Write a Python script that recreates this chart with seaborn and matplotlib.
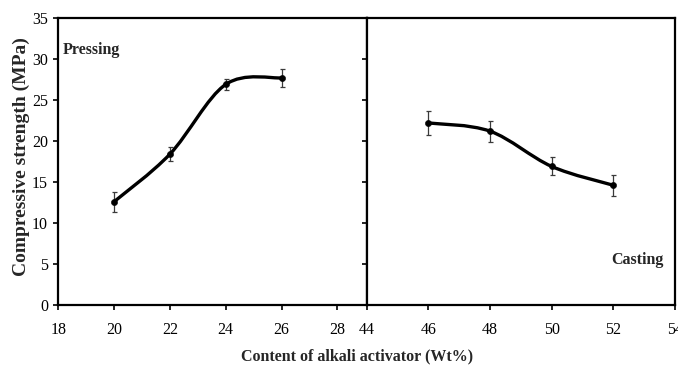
import numpy as np
import seaborn as sns
import matplotlib.pyplot as plt
from matplotlib.path import Path
from matplotlib.patches import PathPatch

# data
press_x = [20, 22, 24, 26]
press_y = [12.6, 18.4, 26.9, 27.7]
press_err = [1.2, 0.9, 0.7, 1.1]

cast_x = [46, 48, 50, 52]
cast_y = [22.2, 21.2, 16.9, 14.6]
cast_err = [1.45, 1.3, 1.1, 1.25]

sns.set_style('ticks')
plt.rcParams['font.family'] = ['Liberation Serif', 'DejaVu Serif']


def smooth_path(xs, ys, k=1 / 6):
    # excel style smoothed line: bezier segments through the points
    pts = np.column_stack([xs, ys]).astype(float)
    verts = [pts[0]]
    codes = [Path.MOVETO]
    n = len(pts)
    for i in range(n - 1):
        p0 = pts[i - 1] if i > 0 else pts[i]
        p1, p2 = pts[i], pts[i + 1]
        p3 = pts[i + 2] if i + 2 < n else pts[i + 1]
        c1 = p1 + (p2 - p0) * k
        c2 = p2 - (p3 - p1) * k
        verts += [c1, c2, p2]
        codes += [Path.CURVE4] * 3
    return Path(verts, codes)


fig = plt.figure(figsize=(6.78, 3.66), dpi=100)
ax1 = fig.add_axes([0.086, 0.1667, 0.4547, 0.7841])
ax2 = fig.add_axes([0.5407, 0.1667, 0.4549, 0.7841])

for ax, xs, ys, es in [(ax1, press_x, press_y, press_err), (ax2, cast_x, cast_y, cast_err)]:
    ax.add_patch(PathPatch(smooth_path(xs, ys), fill=False, lw=2.4, color='black', zorder=3))
    ax.errorbar(xs, ys, yerr=es, fmt='none', ecolor='#3a3a3a', elinewidth=0.9,
                capsize=1.8, capthick=0.9, zorder=2)
    sns.scatterplot(x=xs, y=ys, ax=ax, color='black', s=20, edgecolor='black', zorder=4)
    ax.set_ylim(0, 35)
    ax.set_yticks(range(0, 36, 5))
    for s in ax.spines.values():
        s.set_visible(True)
        s.set_linewidth(1.6)
        s.set_color('black')
    ax.tick_params(direction='out', length=3.5, width=1.2, labelsize=11.5, colors='black')
    ax.tick_params(axis='x', pad=9)
    ax.tick_params(axis='y', pad=4)

ax1.set_xlim(18, 29.05)
ax1.set_xticks(range(18, 29, 2))
ax2.set_xlim(44, 54)
ax2.set_xticks(range(44, 55, 2))
ax2.tick_params(axis='y', labelleft=False)

fig.text(0.032, 0.571, 'Compressive strength (MPa)', rotation=90, ha='center', va='center',
         fontsize=14, fontweight='bold')
fig.text(0.527, 0.027, 'Content of alkali activator (Wt%)', ha='center', va='center',
         fontsize=11.5, fontweight='bold')

ax1.text(0.108, 0.888, 'Pressing', transform=ax1.transAxes, fontsize=11.5,
         fontweight='bold', ha='center', va='center')
ax2.text(0.877, 0.157, 'Casting', transform=ax2.transAxes, fontsize=11.5,
         fontweight='bold', ha='center', va='center')

fig.savefig('out.png', dpi=100)
